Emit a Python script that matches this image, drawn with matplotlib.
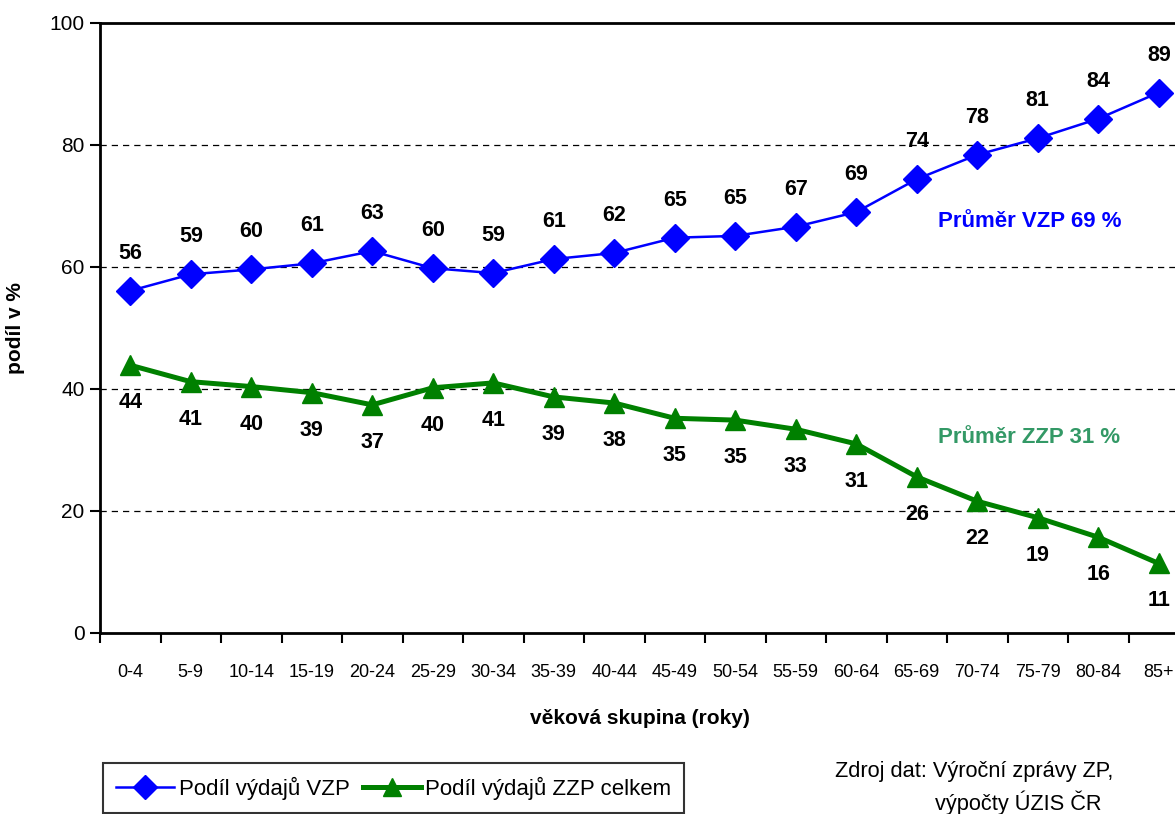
import numpy as np
import matplotlib
matplotlib.use("Agg")
import matplotlib.pyplot as plt
from matplotlib.lines import Line2D

plt.rcParams['font.family'] = ['Liberation Sans', 'DejaVu Sans']

### Data
age_groups = ['0-4', '5-9', '10-14', '15-19', '20-24', '25-29', '30-34', '35-39', '40-44',
              '45-49', '50-54', '55-59', '60-64', '65-69', '70-74', '75-79', '80-84', '85+']
vzp_share = [56.1, 58.8, 59.6, 60.6, 62.6, 59.8, 59.0, 61.3, 62.3,
             64.8, 65.1, 66.6, 69.0, 74.4, 78.4, 81.1, 84.3, 88.6]
zzp_share = [43.9, 41.2, 40.4, 39.4, 37.4, 40.2, 41.0, 38.7, 37.7,
             35.2, 34.9, 33.4, 31.0, 25.6, 21.6, 18.9, 15.7, 11.4]
vzp_avg = 69
zzp_avg = 31

W, H = 1175, 814
fig = plt.figure(figsize=(W / 100, H / 100), dpi=100)
ax = fig.add_axes([100 / W, (H - 633) / H, 1089 / W, 610 / H])

x = np.arange(len(age_groups))

### Lines
ax.plot(x, vzp_share, color='#0000FF', lw=1.8, marker='D', ms=14, zorder=3)
ax.plot(x, zzp_share, color='#008000', lw=3.6, marker='^', ms=15, zorder=3)

### Data labels
for xi, v in zip(x, vzp_share):
    ax.annotate('{:.0f}'.format(v), (xi, v), xytext=(0, 27), textcoords='offset points',
                ha='center', va='center', fontsize=15.5, fontweight='bold')
for xi, v in zip(x, zzp_share):
    ax.annotate('{:.0f}'.format(v), (xi, v), xytext=(0, -27), textcoords='offset points',
                ha='center', va='center', fontsize=15.5, fontweight='bold')

### Average annotations
ax.text(13.35, 67.4, 'Průměr VZP {} %'.format(vzp_avg), color='#0000FF',
        fontsize=16, fontweight='bold', va='center', ha='left')
ax.text(13.35, 32.1, 'Průměr ZZP {} %'.format(zzp_avg), color='#339966',
        fontsize=16, fontweight='bold', va='center', ha='left')

### Axes limits, grid, ticks
ax.set_xlim(-0.5, len(age_groups) - 0.5)
ax.set_ylim(0, 100)
for yv in [20, 40, 60, 80]:
    ax.axhline(yv, color='black', lw=0.9, ls=(0, (5, 4)), zorder=1)

ax.set_yticks(np.arange(0, 101, 20))
ax.set_xticks(x)
ax.set_xticklabels(age_groups)
ax.set_xticks(np.arange(-0.5, len(age_groups), 1), minor=True)
ax.tick_params(axis='x', which='major', length=0, pad=22, labelsize=13)
ax.tick_params(axis='x', which='minor', length=7, width=1.5, direction='out')
ax.tick_params(axis='y', which='major', length=7, width=1.5, direction='out', labelsize=15, pad=4)

for side in ['left', 'bottom', 'top']:
    ax.spines[side].set_linewidth(2)
ax.spines['right'].set_visible(False)

ax.set_ylabel('podíl v %', fontsize=15, fontweight='bold')
ax.yaxis.set_label_coords(-75 / 1089, 0.5)
fig.text(640 / W, 1 - 718 / H, 'věková skupina (roky)', fontsize=15, fontweight='bold',
         ha='center', va='center')

### Legend
handles = [Line2D([], [], color='#0000FF', lw=1.8, marker='D', ms=12),
           Line2D([], [], color='#008000', lw=3.6, marker='^', ms=13)]
leg = fig.legend(handles, ['Podíl výdajů VZP', 'Podíl výdajů ZZP celkem'],
                 loc='lower left', bbox_to_anchor=(103 / W, 1 - 813 / H), ncol=2,
                 fontsize=16, frameon=True, fancybox=False, handlelength=2.6,
                 handletextpad=0.2, columnspacing=0.6, borderpad=0.6, borderaxespad=0)
leg.get_frame().set_edgecolor('black')
leg.get_frame().set_linewidth(1.5)

### Source note
fig.text(835 / W, 1 - 772 / H, 'Zdroj dat: Výroční zprávy ZP,', fontsize=15.7, ha='left', va='center')
fig.text(935 / W, 1 - 803 / H, 'výpočty ÚZIS ČR', fontsize=15.7, ha='left', va='center')

plt.savefig('out.png', dpi=100)
